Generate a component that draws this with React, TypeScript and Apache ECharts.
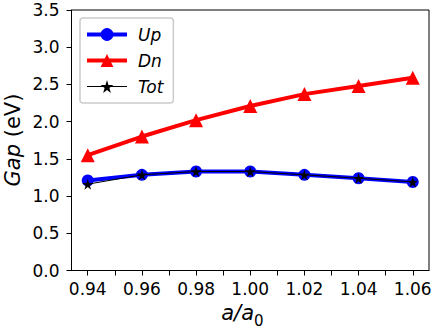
import React, { useEffect, useRef } from "react";
import * as echarts from "echarts";

const xValues = [0.94, 0.96, 0.98, 1.0, 1.02, 1.04, 1.06];
const upValues = [1.21, 1.285, 1.33, 1.33, 1.285, 1.24, 1.19];
const dnValues = [1.55, 1.8, 2.02, 2.21, 2.37, 2.48, 2.59];
const totValues = [1.16, 1.285, 1.33, 1.33, 1.285, 1.24, 1.19];
const xTickValues = [0.94, 0.95, 0.96, 0.97, 0.98, 0.99, 1.0, 1.01, 1.02, 1.03, 1.04, 1.05, 1.06];
const xLabelValues = [0.94, 0.96, 0.98, 1.0, 1.02, 1.04, 1.06];

const FONT = "DejaVu Sans";
const STAR = "path://M50,0 L61,35 L98,35 L68,57 L79,91 L50,70 L21,91 L32,57 L2,35 L39,35 Z";

export default function App() {
  const ref = useRef<HTMLDivElement>(null);
  useEffect(() => {
    if (!ref.current) return;
    const chart = echarts.init(ref.current, null, { renderer: "svg" });
    const pair = (ys: number[]) => xValues.map((x, i) => [x, ys[i]]);
    chart.setOption({
      animation: false,
      backgroundColor: "#ffffff",
      grid: {
        left: 71.5,
        right: 7,
        top: 10,
        bottom: 60.5,
        containLabel: false,
        outerBoundsMode: "none",
        show: true,
        borderColor: "#000",
        borderWidth: 1,
      },
      legend: {
        left: 80,
        top: 18,
        orient: "vertical",
        padding: [8, 10, 8, 5],
        itemWidth: 40,
        itemHeight: 16,
        itemGap: 9,
        backgroundColor: "#fff",
        borderColor: "#cccccc",
        borderWidth: 1.5,
        borderRadius: 3,
        textStyle: { fontFamily: FONT, fontSize: 17, fontStyle: "italic", color: "#000", padding: [0, 0, 0, 6] },
        data: [
          { name: "Up", lineStyle: { width: 4 } },
          { name: "Dn", lineStyle: { width: 4 } },
          { name: "Tot", lineStyle: { width: 1 } },
        ],
      },
      xAxis: {
        type: "value",
        min: 0.934,
        max: 1.066,
        axisLine: { show: true, lineStyle: { color: "#000", width: 1 } },
        axisTick: { show: true, length: 5, customValues: xTickValues, lineStyle: { color: "#000" } },
        axisLabel: {
          customValues: xLabelValues,
          formatter: (v: number) => v.toFixed(2),
          fontFamily: FONT,
          fontSize: 17,
          color: "#000",
          margin: 10,
        },
        splitLine: { show: false },
      },
      yAxis: {
        type: "value",
        min: 0,
        max: 3.5,
        interval: 0.5,
        axisLine: { show: true, lineStyle: { color: "#000", width: 1 } },
        axisTick: { show: true, length: 5, lineStyle: { color: "#000" } },
        axisLabel: {
          formatter: (v: number) => v.toFixed(1),
          fontFamily: FONT,
          fontSize: 17,
          color: "#000",
          margin: 12,
        },
        splitLine: { show: false },
      },
      graphic: [
        {
          type: "text",
          x: 13,
          y: 140,
          rotation: Math.PI / 2,
          style: {
            text: "{i|Gap} (eV)",
            fontFamily: FONT,
            fontSize: 21,
            fill: "#000",
            align: "center",
            verticalAlign: "middle",
            rich: { i: { fontStyle: "italic", fontFamily: FONT, fontSize: 21, fill: "#000" } },
          },
        },
        {
          type: "text",
          x: 254,
          y: 313,
          style: {
            text: "a/a",
            fontFamily: FONT,
            fontSize: 21,
            fontStyle: "italic",
            fill: "#000",
            align: "right",
            verticalAlign: "middle",
          },
        },
        {
          type: "text",
          x: 254,
          y: 321,
          style: {
            text: "0",
            fontFamily: FONT,
            fontSize: 15,
            fill: "#000",
            align: "left",
            verticalAlign: "middle",
          },
        },
      ],
      series: [
        {
          name: "Up",
          type: "line",
          data: pair(upValues),
          symbol: "circle",
          symbolSize: 12,
          lineStyle: { color: "#0000ff", width: 4 },
          itemStyle: { color: "#0000ff" },
          z: 2,
        },
        {
          name: "Dn",
          type: "line",
          data: pair(dnValues),
          symbol: "triangle",
          symbolSize: 14,
          lineStyle: { color: "#ff0000", width: 4 },
          itemStyle: { color: "#ff0000" },
          z: 3,
        },
        {
          name: "Tot",
          type: "line",
          data: pair(totValues),
          symbol: STAR,
          symbolSize: 11,
          lineStyle: { color: "#000", width: 1 },
          itemStyle: { color: "#000" },
          z: 4,
        },
      ],
    });
    return () => chart.dispose();
  }, []);
  return (
    <div
      ref={ref}
      style={{ position: "fixed", left: 0, top: 0, width: 436, height: 331 }}
    />
  );
}
